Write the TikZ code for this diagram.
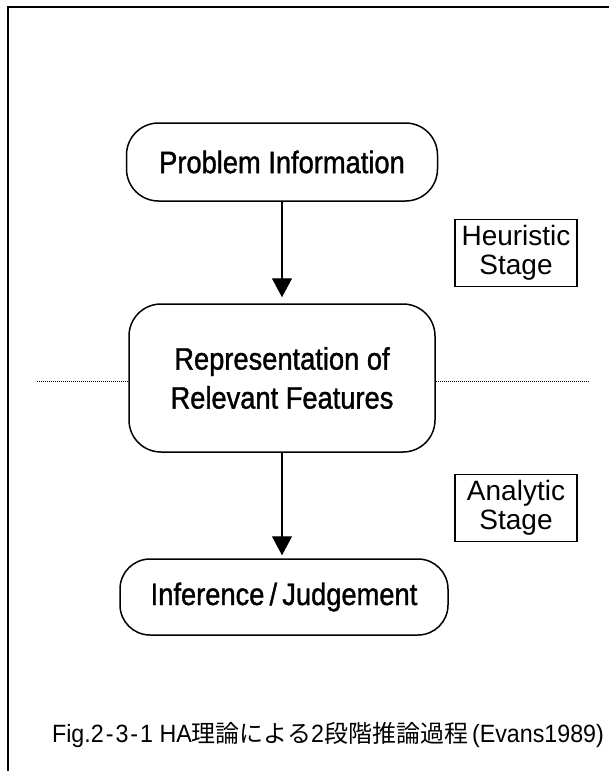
\documentclass[tikz,border=0pt]{standalone}
\usepackage{fontspec}
\setmainfont{Liberation Sans}[FakeStretch=0.93]
\newfontfamily\boxfont{Liberation Sans}[FakeStretch=0.88,FakeBold=1.2]
\newfontfamily\stagefont{Liberation Sans}
\newfontfamily\jpfont{Noto Sans CJK JP}
\usetikzlibrary{arrows.meta}

\begin{document}
\begin{tikzpicture}[x=1pt,y=-1pt,
	stepbox/.style={draw,line width=1.5pt,rounded corners=32pt,
	align=center,inner sep=0pt,font=\boxfont\fontsize{31}{39}\selectfont},
	stagebox/.style={draw,line width=1.2pt,align=center,inner sep=0pt,
	minimum width=122pt,minimum height=67pt,
	font=\stagefont\fontsize{28}{29}\selectfont},
	flow/.style={line width=1.4pt,-{Triangle[width=20pt,length=19pt]}},
	divider/.style={line width=1pt,dash pattern=on 1pt off 1pt}]
	\useasboundingbox (0,0) rectangle (609,771);
	\draw[line width=1.6pt] (609,7) -- (8,7) -- (8,771);
	
	\node[stepbox,minimum width=311pt,minimum height=78pt] (prob) at 
	(282,162) {Problem Information};
	\node[stepbox,minimum width=306pt,minimum height=148pt] (repr) at 
	(282,378) {Representation of\\Relevant Features};
	\node[stepbox,minimum width=328pt,minimum height=76pt,
	rounded corners=30pt] (infer) at (284,597) 
	{Inference\,/\,Judgement};
	
	\node[stagebox] (heur) at (516,253) {Heuristic\\Stage};
	\node[stagebox] (anal) at (516,508) {Analytic\\Stage};
	
	\draw[flow,shorten >=6pt] (prob) -- (repr);
	\draw[flow,shorten >=3pt] (repr.south) -- (repr.south |- infer.north);
	
	\coordinate (dl) at (37,381);
	\coordinate (dr) at (589,381);
	\draw[divider] (dl) -- (dl -| repr.west);
	\draw[divider] (repr.east |- dr) -- (dr);
	
	\node (cap) at (328,735) {\fontsize{25}{28}\selectfont 
	Fig.2\kern2pt-\kern2pt3\kern2pt-\kern2pt1 HA{\jpfont\fontsize{24}{28}\selectfont 
	理論による}2{\jpfont\fontsize{24}{28}\selectfont 段階推論過程}\kern4pt(Evans1989)};
\end{tikzpicture}
\end{document}
